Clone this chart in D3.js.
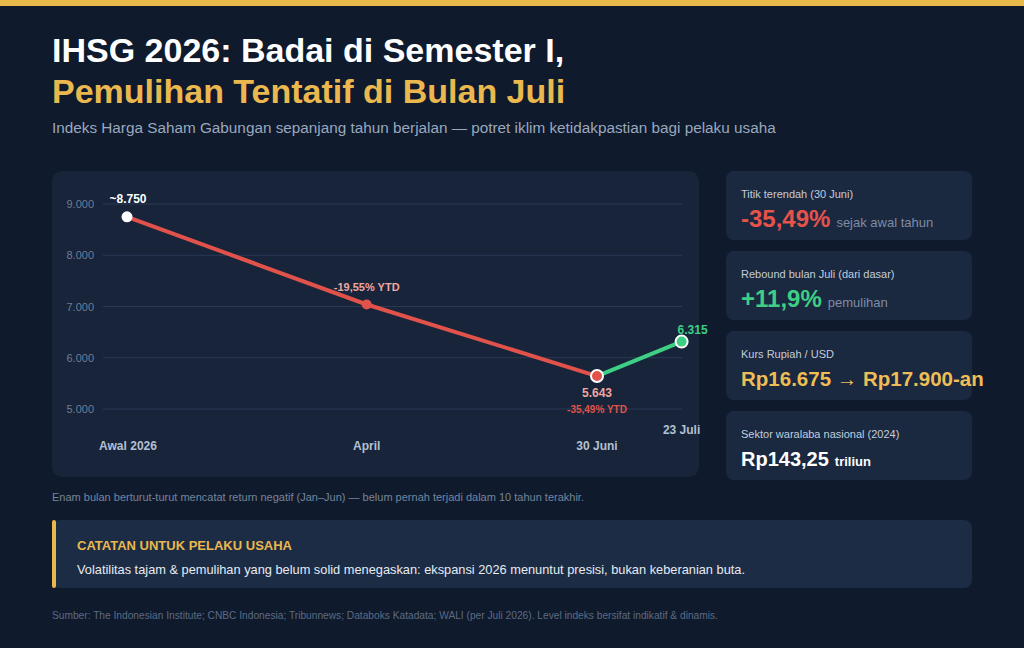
<!DOCTYPE html>
<html><head><meta charset="utf-8">
<script src="https://cdn.jsdelivr.net/npm/d3@7"></script>
<style>
html,body{margin:0;padding:0;background:#0f1a2d;}
svg{display:block;font-family:"Liberation Sans",Arial,Helvetica,sans-serif;}
</style></head>
<body>
<svg id="c" width="1024" height="648"></svg>
<script>
// ---- data ----
const categories = ["Awal 2026", "April", "30 Juni", "23 Juli"];
const xPos = [0, 3.06, 6, 7.08];            // position along the year (months)
const values = [8750, 7039, 5643, 6315];
const pointLabels = ["~8.750", "-19,55% YTD", "5.643", "6.315"];
const yTicks = [5000, 6000, 7000, 8000, 9000];
const yTickLabels = ["5.000", "6.000", "7.000", "8.000", "9.000"];
const cards = [
  {label: "Titik terendah (30 Juni)", value: "-35,49%", unit: "sejak awal tahun", color: "#e5534b"},
  {label: "Rebound bulan Juli (dari dasar)", value: "+11,9%", unit: "pemulihan", color: "#3ecf85"},
  {label: "Kurs Rupiah / USD", value: "Rp16.675 \u2192 Rp17.900-an", unit: "", color: "#efbd55"},
  {label: "Sektor waralaba nasional (2024)", value: "Rp143,25", unit: "triliun", color: "#ffffff"}
];

const svg = d3.select("#c");
const W = 1024, H = 648;
svg.append("rect").attr("width", W).attr("height", H).attr("fill", "#0f1a2d");
svg.append("rect").attr("width", W).attr("height", 6).attr("fill", "#e8b84b");

// titles
svg.append("text").attr("x", 52).attr("y", 62).attr("fill", "#ffffff")
  .attr("font-size", 34).attr("font-weight", "bold").text("IHSG 2026: Badai di Semester I,");
svg.append("text").attr("x", 52).attr("y", 103).attr("fill", "#eab84e")
  .attr("font-size", 34).attr("font-weight", "bold").text("Pemulihan Tentatif di Bulan Juli");
svg.append("text").attr("x", 52).attr("y", 133).attr("fill", "#9aa8bd")
  .attr("font-size", 15.3).text("Indeks Harga Saham Gabungan sepanjang tahun berjalan \u2014 potret iklim ketidakpastian bagi pelaku usaha");

// chart panel
svg.append("rect").attr("x", 52).attr("y", 171).attr("width", 647).attr("height", 306)
  .attr("rx", 10).attr("fill", "#17243a");

const x = d3.scaleLinear().domain([0, 6]).range([127, 597]);
const y = d3.scaleLinear().domain([5000, 9000]).range([409, 204]);

const g = svg.append("g");
// grid
g.selectAll("line.grid").data(yTicks).join("line")
  .attr("x1", 103).attr("x2", 682)
  .attr("y1", d => y(d)).attr("y2", d => y(d))
  .attr("stroke", "#2a3a55").attr("stroke-width", 1);
g.selectAll("text.yt").data(yTicks).join("text")
  .attr("x", 94).attr("y", d => y(d) + 4).attr("text-anchor", "end")
  .attr("fill", "#6d7d96").attr("font-size", 11).text((d, i) => yTickLabels[i]);

const pts = values.map((v, i) => ({x: x(xPos[i]), y: y(v), v, i}));
const line = d3.line().x(d => d.x).y(d => d.y);
g.append("path").datum(pts.slice(0, 3)).attr("d", line)
  .attr("fill", "none").attr("stroke", "#e0524a").attr("stroke-width", 4).attr("stroke-linecap", "round");
g.append("path").datum(pts.slice(2, 4)).attr("d", line)
  .attr("fill", "none").attr("stroke", "#3ecf85").attr("stroke-width", 4).attr("stroke-linecap", "round");

// dots
const dotStyle = [
  {fill: "#ffffff", stroke: "none", r: 5.5},
  {fill: "#e0524a", stroke: "none", r: 5},
  {fill: "#e0524a", stroke: "#ffffff", r: 6},
  {fill: "#3ecf85", stroke: "#ffffff", r: 6}
];
g.selectAll("circle").data(pts).join("circle")
  .attr("cx", d => d.x).attr("cy", d => d.y)
  .attr("r", d => dotStyle[d.i].r).attr("fill", d => dotStyle[d.i].fill)
  .attr("stroke", d => dotStyle[d.i].stroke).attr("stroke-width", 2);

// point labels
const lbl = [
  {dx: 1, dy: -14, fill: "#ffffff", size: 12, anchor: "middle"},
  {dx: 0, dy: -14, fill: "#f0a7a0", size: 11, anchor: "middle"},
  {dx: 0, dy: 21, fill: "#f0a7a0", size: 12, anchor: "middle"},
  {dx: -4, dy: -8, fill: "#3ecf85", size: 12, anchor: "start"}
];
g.selectAll("text.pl").data(pts).join("text")
  .attr("x", d => d.x + lbl[d.i].dx).attr("y", d => d.y + lbl[d.i].dy)
  .attr("text-anchor", d => lbl[d.i].anchor).attr("fill", d => lbl[d.i].fill)
  .attr("font-size", d => lbl[d.i].size).attr("font-weight", "bold")
  .text(d => pointLabels[d.i]);
g.append("text").attr("x", pts[2].x).attr("y", pts[2].y + 37).attr("text-anchor", "middle")
  .attr("fill", "#e0524a").attr("font-size", 10).attr("font-weight", "bold").text("-35,49% YTD");

// x labels
g.selectAll("text.xl").data(categories).join("text")
  .attr("x", (d, i) => x(xPos[i]) + (i === 0 ? 1 : 0))
  .attr("y", (d, i) => i === 3 ? 434 : 450)
  .attr("text-anchor", "middle").attr("fill", "#b4c0d2")
  .attr("font-size", 12).attr("font-weight", "bold").text(d => d);

// cards
const cg = svg.selectAll("g.card").data(cards).join("g")
  .attr("transform", (d, i) => `translate(726,${171 + i * 80})`);
cg.append("rect").attr("width", 246).attr("height", 69).attr("rx", 8).attr("fill", "#1a2840");
cg.append("text").attr("x", 15).attr("y", 27).attr("fill", "#c3cddb").attr("font-size", 11).text(d => d.label);
cg.each(function(d, i) {
  const t = d3.select(this).append("text").attr("x", 15).attr("y", i < 2 ? 56 : 55);
  t.append("tspan").attr("fill", d.color).attr("font-weight", "bold")
    .attr("font-size", i < 2 ? 24 : (i === 2 ? 20.5 : 20)).text(d.value);
  if (d.unit) {
    t.append("tspan").attr("dx", 6)
      .attr("fill", i === 3 ? "#ffffff" : "#7f8ca3")
      .attr("font-weight", i === 3 ? "bold" : "normal")
      .attr("font-size", 13).text(d.unit);
  }
});

// footnote
svg.append("text").attr("x", 52).attr("y", 501).attr("fill", "#76859c").attr("font-size", 11)
  .text("Enam bulan berturut-turut mencatat return negatif (Jan\u2013Jun) \u2014 belum pernah terjadi dalam 10 tahun terakhir.");

// note box
svg.append("rect").attr("x", 52).attr("y", 520).attr("width", 920).attr("height", 68).attr("rx", 8).attr("fill", "#1d2c45");
svg.append("rect").attr("x", 52).attr("y", 520).attr("width", 4).attr("height", 68).attr("rx", 2).attr("fill", "#e8b84b");
svg.append("text").attr("x", 77).attr("y", 550).attr("fill", "#eab84e").attr("font-size", 13).attr("font-weight", "bold")
  .text("CATATAN UNTUK PELAKU USAHA");
svg.append("text").attr("x", 77).attr("y", 574).attr("fill", "#e6ebf2").attr("font-size", 12.8)
  .text("Volatilitas tajam & pemulihan yang belum solid menegaskan: ekspansi 2026 menuntut presisi, bukan keberanian buta.");

svg.append("text").attr("x", 52).attr("y", 619).attr("fill", "#5d6b82").attr("font-size", 10.2)
  .text("Sumber: The Indonesian Institute; CNBC Indonesia; Tribunnews; Databoks Katadata; WALI (per Juli 2026). Level indeks bersifat indikatif & dinamis.");
</script>
</body></html>
